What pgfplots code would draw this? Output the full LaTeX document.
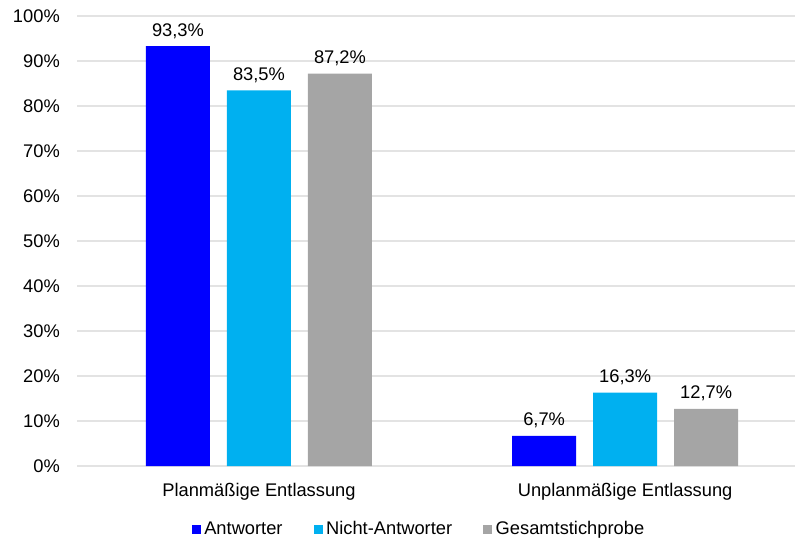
\documentclass[border=0pt]{standalone}
\usepackage{fontspec}
\setmainfont{Liberation Sans}
\usepackage{pgfplots}
\pgfplotsset{compat=1.18}

\definecolor{cAnt}{HTML}{0000FF}
\definecolor{cNicht}{HTML}{00B0F0}
\definecolor{cGes}{HTML}{A5A5A5}
\definecolor{cGrid}{HTML}{E3E3E3}

\newcommand{\lbl}{\fontsize{18.3}{21}\selectfont}

\begin{document}
\begin{tikzpicture}[x=1pt,y=1pt]
\useasboundingbox (0,0) rectangle (795,542);
\begin{axis}[
  at={(77pt,76pt)}, anchor=south west,
  scale only axis, width=718pt, height=450pt,
  xmin=-0.497, xmax=1.464,
  ymin=0, ymax=100,
  axis line style={draw=none},
  major tick length=0pt,
  ymajorgrids, grid style={draw=cGrid, line width=1.2pt},
  ytick={0,10,...,100},
  yticklabel={\pgfmathprintnumber{\tick}\%},
  yticklabel style={anchor=east, inner sep=0pt, xshift=-17pt, font=\lbl},
  xtick={0,1},
  xticklabels={Planmäßige Entlassung, Unplanmäßige Entlassung},
  xticklabel style={anchor=base, inner sep=0pt, yshift=-30pt, font=\lbl},
  /pgf/number format/assume math mode=true,
  ybar=17pt, bar width=64pt,
  nodes near coords={\pgfmathprintnumber[fixed,fixed zerofill,precision=1,use comma]{\pgfplotspointmeta}\%},
  every node near coord/.append style={anchor=base, inner sep=0pt, yshift=10pt, font=\lbl, text=black},
  legend columns=3,
  legend style={at={(0.4763,-0.14)}, anchor=center, draw=none, fill=none,
    inner sep=0pt, font=\lbl,
    /tikz/every odd column/.append style={column sep=1.5pt},
    /tikz/every even column/.append style={column sep=29pt}},
  legend image code/.code={\fill[#1] (0pt,-4.5pt) rectangle (9pt,4.5pt);},
  legend cell align=left,
  clip=false,
]
\addplot[fill=cAnt, draw=none] coordinates {(0,93.3) (1,6.7)};
\addplot[fill=cNicht, draw=none] coordinates {(0,83.5) (1,16.3)};
\addplot[fill=cGes, draw=none] coordinates {(0,87.2) (1,12.7)};
\legend{Antworter, Nicht-Antworter, Gesamtstichprobe}
\end{axis}
\end{tikzpicture}
\end{document}
